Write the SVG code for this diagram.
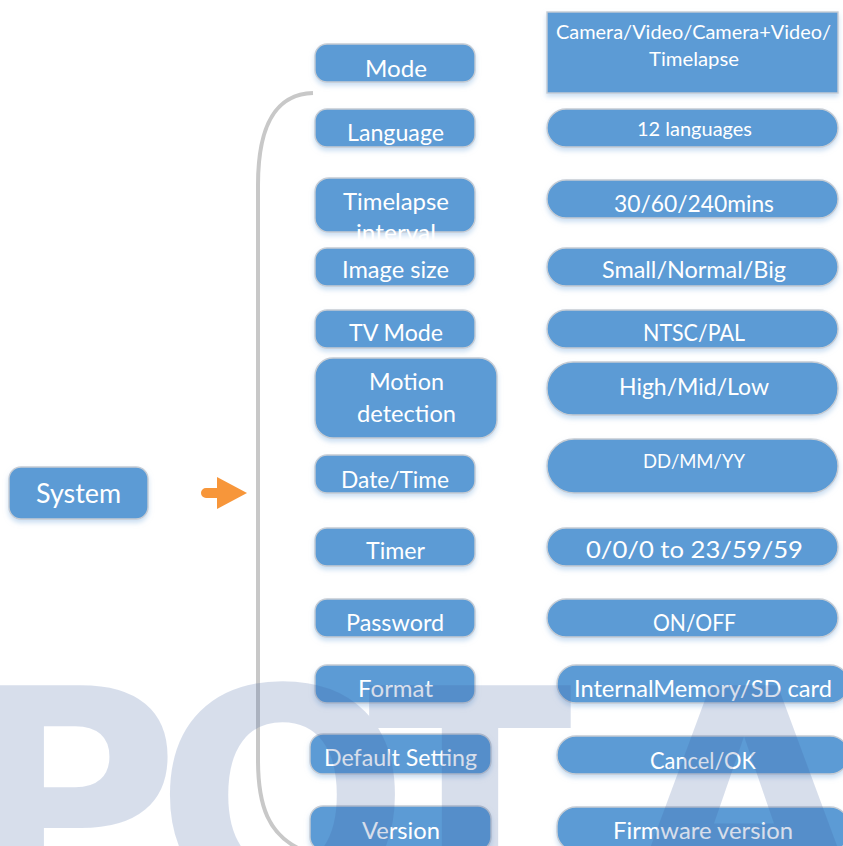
<svg xmlns="http://www.w3.org/2000/svg" width="843" height="846" viewBox="0 0 843 846">
<defs>
<filter id="sh" x="-10%" y="-30%" width="120%" height="170%">
<feDropShadow dx="0" dy="3" stdDeviation="2.5" flood-color="#9fc2e6" flood-opacity="0.55"/>
</filter>
</defs>
<style>
.box{fill:#5b9bd5;stroke:#c6ccd4;stroke-width:1.4;filter:url(#sh)}
.t{fill:#ffffff;font-family:Lato,"Open Sans","DejaVu Sans",sans-serif;text-anchor:middle}
.l{font-size:23px}
.r{font-size:23px}
.s{font-size:19.5px}
.wm{font-family:"DejaVu Sans","Liberation Sans",sans-serif;font-weight:bold;font-size:300px;fill:#3d5fa0}
</style>
<rect width="843" height="846" fill="#ffffff"/>

<g id="connectors">
<path d="M 313 93 C 282 94 258 115 258 185 L 258 760 C 258 805 268 835 302 850" fill="none" stroke="#c8c8c8" stroke-width="4"/>
<path d="M 206 488 L 217 488 L 217 477 L 247 493 L 217 509 L 217 498 L 206 498 A 5 5 0 0 1 206 488 Z" fill="#f7963a"/>
</g>

<g id="system">
<rect class="box" x="9" y="467" width="139" height="52" rx="12"/>
<text class="t" x="78.5" y="503" font-size="26" textLength="85" lengthAdjust="spacingAndGlyphs">System</text>
</g>

<g id="mode">
<rect class="box" x="315" y="44" width="160" height="38" rx="12"/>
<text class="t l" x="396" y="77" textLength="62" lengthAdjust="spacingAndGlyphs">Mode</text>
</g>
<g id="language">
<rect class="box" x="315" y="109" width="160" height="38" rx="12"/>
<text class="t l" x="395.5" y="141" textLength="97" lengthAdjust="spacingAndGlyphs">Language</text>
</g>
<g id="timelapse-interval">
<rect class="box" x="315" y="178" width="160" height="54" rx="14"/>
<text class="t l" x="396" y="210" textLength="106" lengthAdjust="spacingAndGlyphs">Timelapse</text>
<text class="t l" x="396" y="241" textLength="80" lengthAdjust="spacingAndGlyphs">interval</text>
</g>
<g id="image-size">
<rect class="box" x="315" y="248" width="160" height="38" rx="12"/>
<text class="t l" x="395.5" y="278" textLength="107" lengthAdjust="spacingAndGlyphs">Image size</text>
</g>
<g id="tv-mode">
<rect class="box" x="315" y="310" width="160" height="38" rx="12"/>
<text class="t l" x="396" y="341" textLength="94" lengthAdjust="spacingAndGlyphs">TV Mode</text>
</g>
<g id="motion-detection">
<rect class="box" x="315" y="358" width="182" height="80" rx="18"/>
<text class="t l" x="406.5" y="390" textLength="75" lengthAdjust="spacingAndGlyphs">Motion</text>
<text class="t l" x="406.5" y="422" textLength="99" lengthAdjust="spacingAndGlyphs">detection</text>
</g>
<g id="date-time">
<rect class="box" x="315" y="455" width="160" height="38" rx="12"/>
<text class="t l" x="395" y="488" textLength="108" lengthAdjust="spacingAndGlyphs">Date/Time</text>
</g>
<g id="timer">
<rect class="box" x="315" y="528" width="160" height="38" rx="12"/>
<text class="t l" x="395.5" y="559" textLength="59" lengthAdjust="spacingAndGlyphs">Timer</text>
</g>
<g id="password">
<rect class="box" x="315" y="599" width="160" height="38" rx="12"/>
<text class="t l" x="395" y="631" textLength="98" lengthAdjust="spacingAndGlyphs">Password</text>
</g>
<g id="format">
<rect class="box" x="315" y="665" width="160" height="38" rx="12"/>
<text class="t l" x="395.5" y="697" textLength="75" lengthAdjust="spacingAndGlyphs">Format</text>
</g>
<g id="default-setting">
<rect class="box" x="310" y="734" width="181" height="40" rx="13"/>
<text class="t l" x="400.5" y="766" textLength="153" lengthAdjust="spacingAndGlyphs">Default Setting</text>
</g>
<g id="version">
<rect class="box" x="310" y="806" width="181" height="44" rx="13"/>
<text class="t l" x="401" y="839" textLength="78" lengthAdjust="spacingAndGlyphs">Version</text>
</g>

<g id="mode-options">
<rect class="box" x="547" y="12" width="291" height="81"/>
<text class="t s" x="693.5" y="39" textLength="275" lengthAdjust="spacingAndGlyphs">Camera/Video/Camera+Video/</text>
<text class="t s" x="694" y="66" textLength="90" lengthAdjust="spacingAndGlyphs">Timelapse</text>
</g>
<g id="language-options">
<rect class="box" x="547" y="109" width="291" height="38" rx="19"/>
<text class="t s" x="694.5" y="136" textLength="115" lengthAdjust="spacingAndGlyphs">12 languages</text>
</g>
<g id="interval-options">
<rect class="box" x="547" y="180" width="291" height="38" rx="19"/>
<text class="t r" x="694" y="212" textLength="160" lengthAdjust="spacingAndGlyphs">30/60/240mins</text>
</g>
<g id="size-options">
<rect class="box" x="547" y="248" width="291" height="38" rx="19"/>
<text class="t r" x="694" y="278" textLength="184" lengthAdjust="spacingAndGlyphs">Small/Normal/Big</text>
</g>
<g id="tv-options">
<rect class="box" x="547" y="310" width="291" height="38" rx="19"/>
<text class="t r" x="694" y="341" textLength="102" lengthAdjust="spacingAndGlyphs">NTSC/PAL</text>
</g>
<g id="motion-options">
<rect class="box" x="547" y="362" width="291" height="53" rx="26"/>
<text class="t r" x="694" y="395" textLength="150" lengthAdjust="spacingAndGlyphs">High/Mid/Low</text>
</g>
<g id="date-options">
<rect class="box" x="547" y="439" width="291" height="54" rx="27"/>
<text class="t s" x="694" y="468" textLength="102" lengthAdjust="spacingAndGlyphs">DD/MM/YY</text>
</g>
<g id="timer-options">
<rect class="box" x="547" y="528" width="291" height="38" rx="19"/>
<text class="t r" x="694.5" y="558" textLength="217" lengthAdjust="spacingAndGlyphs">0/0/0 to 23/59/59</text>
</g>
<g id="password-options">
<rect class="box" x="547" y="599" width="291" height="38" rx="19"/>
<text class="t r" x="694.5" y="631" textLength="83" lengthAdjust="spacingAndGlyphs">ON/OFF</text>
</g>
<g id="format-options">
<rect class="box" x="557" y="665" width="292" height="38" rx="19"/>
<text class="t r" x="703" y="697" textLength="258" lengthAdjust="spacingAndGlyphs">InternalMemory/SD card</text>
</g>
<g id="default-options">
<rect class="box" x="557" y="736" width="292" height="38" rx="19"/>
<text class="t r" x="703" y="769" textLength="106" lengthAdjust="spacingAndGlyphs">Cancel/OK</text>
</g>
<g id="version-options">
<rect class="box" x="557" y="807" width="292" height="44" rx="19"/>
<text class="t r" x="703" y="839" textLength="180" lengthAdjust="spacingAndGlyphs">Firmware version</text>
</g>

<g id="watermark" opacity="0.2">
<text class="wm" x="-40" y="904">P</text>
<text class="wm" x="155" y="904">O</text>
<text class="wm" x="470" y="904" text-anchor="middle">T</text>
<text class="wm" x="744" y="904" text-anchor="middle">A</text>
</g>
</svg>
